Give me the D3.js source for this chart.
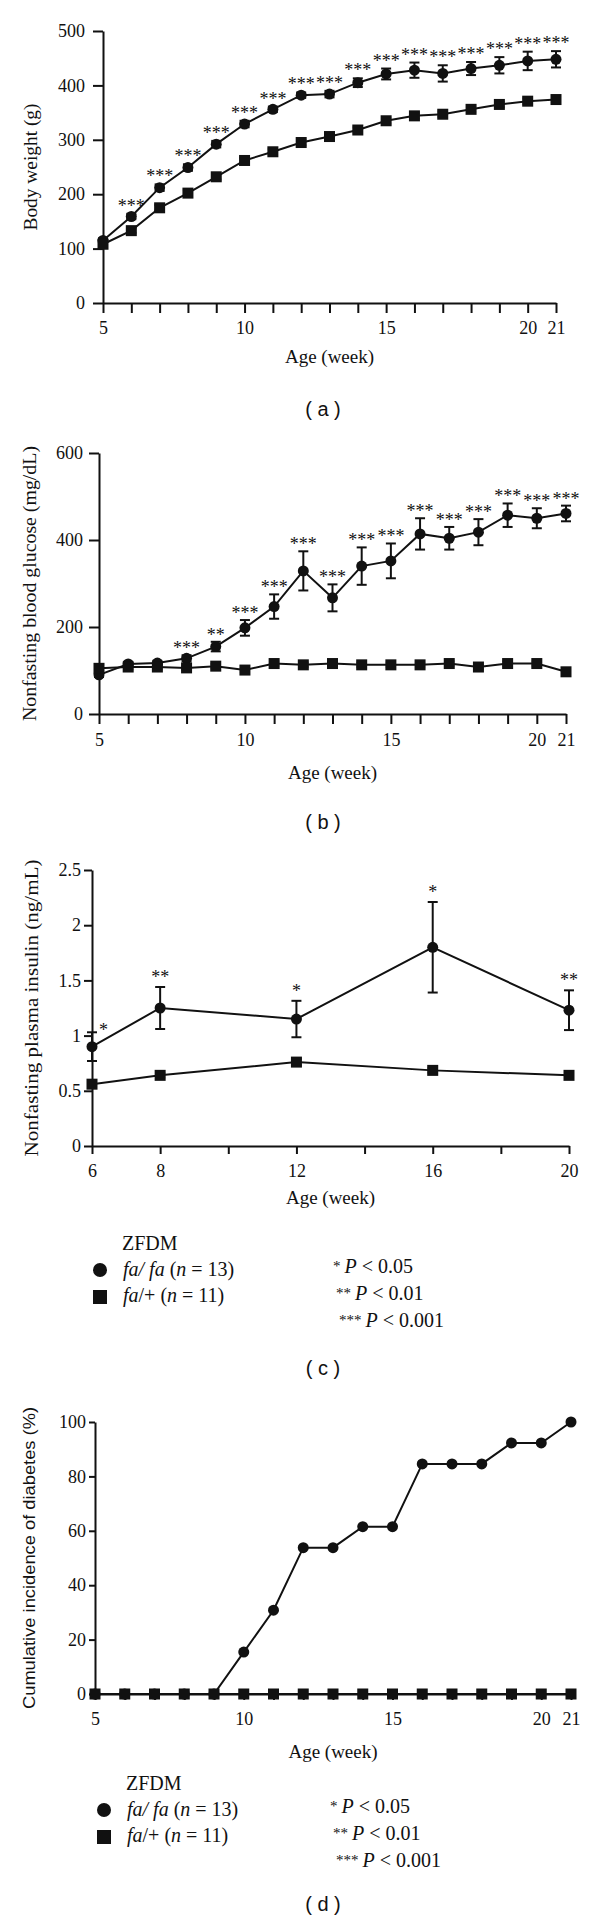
<!DOCTYPE html>
<html><head><meta charset="utf-8">
<script src="https://cdn.jsdelivr.net/npm/d3@7"></script>
<style>
body{margin:0;background:#fff;}
svg{display:block;}
text{fill:#111;}
</style></head>
<body>
<svg id="chart" width="600" height="1920"></svg>
<script>
// ---------- DATA ----------
const weeks = [5,6,7,8,9,10,11,12,13,14,15,16,17,18,19,20,21];
const weekLabels = [5,10,15,20,21];

// (a) Body weight (g)
const bwFaFa     = [115,159,212,249,292,329,356,382,384,405,421,428,422,431,437,445,448];
const bwFaFaErr  = [4,5,6,6,6,6,5,5,6,8,10,14,15,12,15,17,15];
const bwFaPlus   = [108,133,175,202,232,262,278,295,306,318,335,344,347,356,365,371,374];
const bwFaPlusErr= [3,4,5,5,5,5,5,5,5,5,5,5,5,5,5,5,5];
const bwSig      = ["","***","***","***","***","***","***","***","***","***","***","***","***","***","***","***","***"];
const bwTicks    = [0,100,200,300,400,500];

// (b) Nonfasting blood glucose (mg/dL)
const gluFaFa     = [90,115,117,128,155,198,247,329,267,340,352,414,404,418,457,450,461];
const gluFaFaErr  = [5,5,5,7,11,18,28,45,31,43,40,36,26,30,27,23,18];
const gluFaPlus   = [105,108,108,106,110,101,116,113,116,113,113,113,116,108,116,116,97];
const gluFaPlusErr= [5,5,5,5,5,5,5,5,5,5,5,5,5,5,5,5,5];
const gluSig      = ["","","","***","**","***","***","***","***","***","***","***","***","***","***","***","***"];
const gluTicks    = [0,200,400,600];

// (c) Nonfasting plasma insulin (ng/mL)
const insWeeks     = [6,8,12,16,20];
const insTickWeeks = [6,8,10,12,14,16,18,20];
const insLabelWeeks= [6,8,12,16,20];
const insFaFa      = [0.90,1.25,1.15,1.80,1.23];
const insFaFaErr   = [0.13,0.19,0.165,0.41,0.18];
const insFaPlus    = [0.56,0.64,0.76,0.685,0.64];
const insFaPlusErr = [0.03,0.02,0.03,0.02,0.02];
const insSig       = ["*","**","*","*","**"];
const insTicks     = [0,0.5,1,1.5,2,2.5];

// (d) Cumulative incidence of diabetes (%)
const incFaFa   = [0,0,0,0,0,15.4,30.8,53.8,53.8,61.5,61.5,84.6,84.6,84.6,92.3,92.3,100];
const incFaPlus = [0,0,0,0,0,0,0,0,0,0,0,0,0,0,0,0,0];
const incTicks  = [0,20,40,60,80,100];

// ---------- DRAWING ----------
const svg = d3.select("#chart");
const SERIF = "'Liberation Serif','Times New Roman',serif";
const SANS  = "'Liberation Sans',Arial,sans-serif";

function panel(o){
  const g = svg.append("g");
  const x = d3.scaleLinear().domain(o.xDomain).range(o.xRange);
  const y = d3.scaleLinear().domain(o.yDomain).range(o.yRange);

  // axes
  const yAx = d3.axisLeft(y).tickValues(o.yTicks).tickSize(o.yTickSize).tickSizeOuter(0)
      .tickPadding(o.yPad).tickFormat(d => d3.format("")(d));
  const ga = g.append("g").attr("transform", `translate(${o.xRange[0]},0)`).call(yAx);
  const xAx = d3.axisBottom(x).tickValues(o.xTicks).tickSize(o.xTickSize).tickSizeOuter(0)
      .tickPadding(o.xPad).tickFormat(d => o.xLabels.includes(d) ? d : "");
  const gb = g.append("g").attr("transform", `translate(0,${o.yRange[0]})`).call(xAx);
  [ga,gb].forEach(a=>{
    a.selectAll("path.domain").attr("stroke","#111").attr("stroke-width",2);
    a.selectAll(".tick line").attr("stroke","#111").attr("stroke-width",2);
    a.selectAll(".tick text").attr("font-family",SERIF).attr("font-size",18).attr("fill","#111");
  });

  // axis titles
  g.append("text").attr("x",(o.xRange[0]+o.xRange[1])/2).attr("y",o.xTitleY)
    .attr("text-anchor","middle").attr("font-family",SERIF).attr("font-size",19).text("Age (week)");
  const my = (o.yRange[0]+o.yRange[1])/2;
  g.append("text").attr("transform",`translate(${o.yTitleX},${my}) rotate(-90)`)
    .attr("text-anchor","middle").attr("dy","0.35em")
    .attr("font-family",o.yTitleFont||SERIF).attr("font-size",o.yTitleSize||18)
    .attr("textLength",o.yTitleLen).attr("lengthAdjust","spacingAndGlyphs")
    .text(o.yTitle);

  const line = d3.line().x((d,i)=>x(o.xs[i])).y(d=>y(d));
  const series = [
    {v:o.a, e:o.aErr, shape:"circle"},
    {v:o.b, e:o.bErr, shape:"square"}
  ];
  series.forEach(s=>{
    g.append("path").datum(s.v).attr("d",line).attr("fill","none")
      .attr("stroke","#111").attr("stroke-width",2);
  });
  series.forEach(s=>{
    if(!s.e) return;
    s.v.forEach((v,i)=>{
      const e=s.e[i]; if(!e) return;
      const cx=x(o.xs[i]), y1=y(v+e), y2=y(v-e);
      g.append("line").attr("x1",cx).attr("x2",cx).attr("y1",y1).attr("y2",y2).attr("stroke","#111").attr("stroke-width",2);
      [y1,y2].forEach(yy=>g.append("line").attr("x1",cx-5).attr("x2",cx+5).attr("y1",yy).attr("y2",yy).attr("stroke","#111").attr("stroke-width",2));
    });
  });
  series.forEach(s=>{
    s.v.forEach((v,i)=>{
      const cx=x(o.xs[i]), cy=y(v);
      if(s.shape==="circle") g.append("circle").attr("cx",cx).attr("cy",cy).attr("r",o.r||5.5).attr("fill","#111");
      else g.append("rect").attr("x",cx-5.5).attr("y",cy-5.5).attr("width",11).attr("height",11).attr("fill","#111");
    });
  });

  // significance stars
  if(o.sig){
    o.sig.forEach((s,i)=>{
      if(!s) return;
      let cx=x(o.xs[i]);
      let cy=y(o.a[i]+(o.aErr?o.aErr[i]:0)) - o.starGap;
      let anchor="middle";
      if(o.firstStarRight && i===0){ cx += 7; cy += 8; anchor="start"; }
      g.append("text").attr("x",cx).attr("y",cy+8)
        .attr("text-anchor",anchor).attr("font-family",SERIF).attr("font-size",18)
        .text(s);
    });
  }

  // panel label
  svg.append("text").attr("x",323).attr("y",o.panelY).attr("text-anchor","middle")
    .attr("font-family",SANS).attr("font-size",20).attr("fill","#111").text(o.panelLabel);
}

panel({xDomain:[5,21],xRange:[103,556],yDomain:[0,500],yRange:[303,31],
  yTicks:bwTicks,yTickSize:10,yPad:8,xTicks:weeks,xLabels:weekLabels,xTickSize:10,xPad:8,
  xTitleY:363,yTitle:"Body weight (g)",yTitleX:31,yTitleLen:127,
  xs:weeks,a:bwFaFa,aErr:bwFaFaErr,b:bwFaPlus,bErr:bwFaPlusErr,sig:bwSig,starGap:10,
  panelY:416,panelLabel:"( a )"});

panel({xDomain:[5,21],xRange:[99,566],yDomain:[0,600],yRange:[714,453],
  yTicks:gluTicks,yTickSize:10,yPad:6,xTicks:weeks,xLabels:weekLabels,xTickSize:10,xPad:9,
  xTitleY:779,yTitle:"Nonfasting blood glucose (mg/dL)",yTitleX:30,yTitleLen:275,
  xs:weeks,a:gluFaFa,aErr:gluFaFaErr,b:gluFaPlus,bErr:gluFaPlusErr,sig:gluSig,starGap:9,
  panelY:829,panelLabel:"( b )"});

panel({xDomain:[6,20],xRange:[92,569],yDomain:[0,2.5],yRange:[1146,870],
  yTicks:insTicks,yTickSize:8,yPad:3,xTicks:insTickWeeks,xLabels:insLabelWeeks,xTickSize:8,xPad:10,
  xTitleY:1204,yTitle:"Nonfasting plasma insulin (ng/mL)",yTitleX:32,yTitleLen:297,
  xs:insWeeks,a:insFaFa,aErr:insFaFaErr,b:insFaPlus,bErr:insFaPlusErr,sig:insSig,starGap:12,firstStarRight:true,
  panelY:1375,panelLabel:"( c )"});

panel({xDomain:[5,21],xRange:[95,571],yDomain:[0,100],yRange:[1694,1422],
  yTicks:incTicks,yTickSize:6,yPad:3,xTicks:weeks,xLabels:weekLabels,xTickSize:6,xPad:12,
  xTitleY:1758,yTitle:"Cumulative incidence of diabetes (%)",yTitleX:29,yTitleLen:302,
  yTitleFont:SANS,yTitleSize:16,
  xs:weeks,a:incFaFa,aErr:null,b:incFaPlus,bErr:null,sig:null,
  panelY:1911,panelLabel:"( d )"});

// ---------- LEGENDS ----------
function legend(L){
  const g = svg.append("g").attr("font-family",SERIF).attr("font-size",20);
  g.append("text").attr("x",L.x0+22).attr("y",L.y0).text("ZFDM");
  g.append("circle").attr("cx",L.x0).attr("cy",L.y0+20).attr("r",7).attr("fill","#111");
  const t1 = g.append("text").attr("x",L.x0+23).attr("y",L.y0+26);
  t1.append("tspan").attr("font-style","italic").text("fa/ fa");
  t1.append("tspan").text(" (");
  t1.append("tspan").attr("font-style","italic").text("n");
  t1.append("tspan").text(" = 13)");
  g.append("rect").attr("x",L.x0-7).attr("y",L.y0+40).attr("width",14).attr("height",14).attr("fill","#111");
  const t2 = g.append("text").attr("x",L.x0+23).attr("y",L.y0+52);
  t2.append("tspan").attr("font-style","italic").text("fa");
  t2.append("tspan").text("/+ (");
  t2.append("tspan").attr("font-style","italic").text("n");
  t2.append("tspan").text(" = 11)");
  const ps = [["*","0.05"],["**","0.01"],["***","0.001"]];
  ps.forEach((p,i)=>{
    const t = g.append("text").attr("x",L.px+i*3).attr("y",L.y0+23+i*27);
    t.append("tspan").attr("font-size",15).attr("dy",-2).text(p[0]);
    t.append("tspan").attr("dy",2).text("\u2009");
    t.append("tspan").attr("font-style","italic").text("P");
    t.append("tspan").text(" < " + p[1]);
  });
}
legend({x0:100,y0:1250,px:333});
legend({x0:104,y0:1790,px:330});
</script>
</body></html>
